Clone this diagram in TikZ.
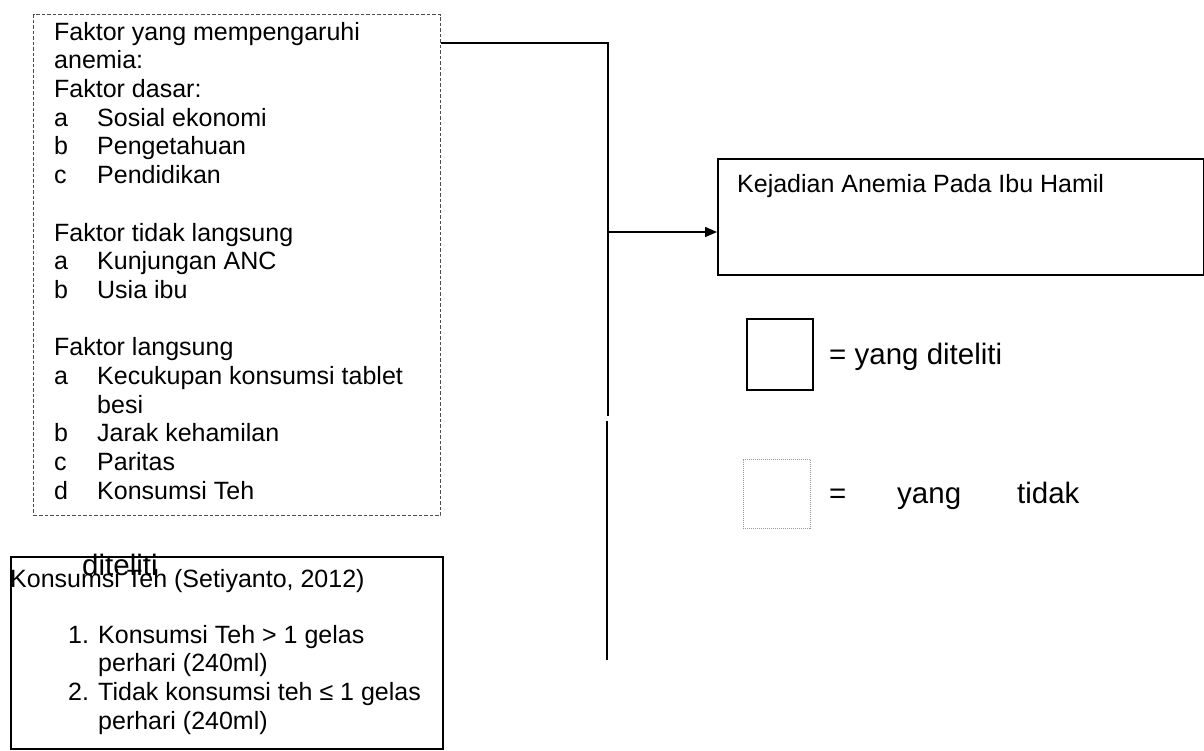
\documentclass[tikz,border=0pt]{standalone}
\usepackage{fontspec}
\setmainfont{Liberation Sans}
\usetikzlibrary{arrows.meta}
\newcommand\litem[1]{\makebox[43pt][l]{#1}}
\newcommand\nitem[1]{\makebox[30pt][l]{#1}}
\tikzset{
  txt/.style={inner sep=0pt, font=\fontsize{25}{28.7}\selectfont, align=left},
  legtxt/.style={inner sep=0pt, font=\fontsize{29.5}{34}\selectfont, align=left},
  solidbox/.style={draw=black, line width=1.8pt, inner sep=0pt},
  dashbox/.style={draw=black!70, line width=1pt, dash pattern=on 3.5pt off 2pt, inner sep=0pt},
  dotbox/.style={draw=black!40, line width=0.9pt, dash pattern=on 1pt off 1pt, inner sep=0pt},
  conn/.style={draw=black, line width=1.5pt},
}
\begin{document}
\begin{tikzpicture}[x=1pt,y=-1pt]
\useasboundingbox (0,0) rectangle (1204,750);
% factor box
\node[dashbox, minimum width=407pt, minimum height=501pt, anchor=north west] (fac) at (33,14) {};
\node[txt, anchor=base west] (facbase) at (54,40) {};
\node[txt, anchor=north west] (factxt) at ([yshift=18.2pt]facbase.base west) {Faktor yang mempengaruhi\\anemia:\\Faktor dasar:\\
\litem{a}Sosial ekonomi\\\litem{b}Pengetahuan\\\litem{c}Pendidikan\\~\\
Faktor tidak langsung\\\litem{a}Kunjungan ANC\\\litem{b}Usia ibu\\~\\
Faktor langsung\\\litem{a}Kecukupan konsumsi tablet\\\hspace*{43pt}besi\\
\litem{b}Jarak kehamilan\\\litem{c}Paritas\\\litem{d}Konsumsi Teh};
% connectors
\coordinate (jA) at (608,43);
\coordinate (jB) at (608,416);
\coordinate (jC) at (608,232);
\coordinate (jD) at (607,421);
\coordinate (jE) at (607,660);
\draw[conn] (fac.north east |- jA) -- (jA) -- (jB);
\draw[conn] (jD) -- (jE);
% outcome box
\node[solidbox, minimum width=486pt, minimum height=116pt, anchor=north west] (kej) at (717,158) {};
\node[txt, anchor=base west] (kejtxt) at (737,192) {Kejadian Anemia Pada Ibu Hamil};
\draw[conn, -{Triangle[length=12pt,width=10pt]}] (jC) -- (kej.west |- jC);
% legend
\node[solidbox, minimum width=66pt, minimum height=71pt, anchor=north west] (leg1) at (746,318) {};
\node[legtxt, anchor=base west] (leg1txt) at (829,364) {= yang diteliti};
\node[dotbox, minimum width=67pt, minimum height=69pt, anchor=north west] (leg2) at (743,459) {};
\node[legtxt, anchor=base west] (leg2txt) at (829,503) {\makebox[68pt][l]{=}\makebox[120pt][l]{yang}tidak};
% tea box
\node[solidbox, minimum width=432pt, minimum height=192pt, anchor=north west] (teh) at (10,556) {};
\node[txt, anchor=base west] (tehtitle) at (10,587) {Konsumsi Teh (Setiyanto, 2012)};
\node[legtxt, anchor=base west] (dit) at (82,575) {diteliti};
\node[txt, anchor=base west] (tehl1) at (68,643) {\nitem{1.}Konsumsi Teh > 1 gelas};
\node[txt, anchor=base west] (tehl2) at (98,671.7) {perhari (240ml)};
\node[txt, anchor=base west] (tehl3) at (68,700.4) {\nitem{2.}Tidak konsumsi teh ≤ 1 gelas};
\node[txt, anchor=base west] (tehl4) at (98,729.1) {perhari (240ml)};
\end{tikzpicture}
\end{document}
